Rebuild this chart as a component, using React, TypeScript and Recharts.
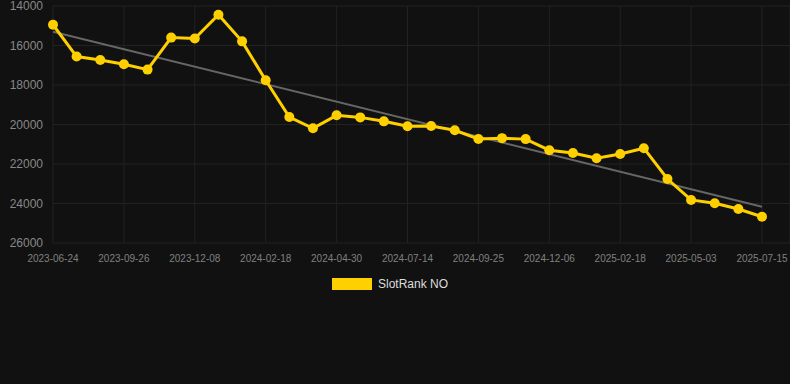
import React from "react";
import { LineChart, Line, XAxis, YAxis, CartesianGrid, Legend } from "recharts";

const dates = [
  "2023-06-24", "2023-07-25", "2023-08-25", "2023-09-26", "2023-10-20", "2023-11-14",
  "2023-12-08", "2024-01-02", "2024-01-26", "2024-02-18", "2024-03-13", "2024-04-06",
  "2024-04-30", "2024-05-25", "2024-06-19", "2024-07-14", "2024-08-07", "2024-09-01",
  "2024-09-25", "2024-10-19", "2024-11-12", "2024-12-06", "2024-12-31", "2025-01-24",
  "2025-02-18", "2025-03-14", "2025-04-08", "2025-05-03", "2025-05-27", "2025-06-20",
  "2025-07-15",
];

const rankValues = [
  14950, 16560, 16730, 16950, 17220, 15600, 15650, 14440, 15790, 17760, 19620,
  20190, 19535, 19640, 19840, 20090, 20080, 20295, 20735, 20690, 20740, 21300,
  21440, 21710, 21490, 21200, 22760, 23820, 23990, 24280, 24670,
];

const trendStart = 15300;
const trendEnd = 24160;

const yTicks = [14000, 16000, 18000, 20000, 22000, 24000, 26000];

const data = dates.map((d, i) => ({
  date: d,
  rank: rankValues[i],
  trend: i === 0 ? trendStart : i === dates.length - 1 ? trendEnd : null,
}));

const LegendContent = () => (
  <div style={{ display: "flex", justifyContent: "center", alignItems: "center", height: 20 }}>
    <div style={{ width: 40, height: 12, background: "#FFD000", marginRight: 6 }} />
    <span style={{ color: "#dddddd", fontSize: 12, fontFamily: "'Liberation Sans', Arial, sans-serif" }}>
      SlotRank NO
    </span>
  </div>
);

export default function App() {
  return (
    <div style={{ position: "absolute", left: 0, top: 0, width: 790, height: 384, background: "#111111" }}>
      <LineChart
        width={790}
        height={384}
        data={data}
        margin={{ top: 6, right: 0, left: 0, bottom: 91 }}
        style={{ fontFamily: "'Liberation Sans', Arial, sans-serif" }}
      >
        <CartesianGrid stroke="#222222" strokeWidth={1} />
        <XAxis
          dataKey="date"
          interval={2}
          tick={{ fill: "#808080", fontSize: 10 }}
          tickLine={false}
          axisLine={false}
          tickMargin={6}
          height={30}
          padding={{ left: 0, right: 28 }}
        />
        <YAxis
          reversed
          domain={[14000, 26000]}
          ticks={yTicks}
          interval={0}
          width={53}
          tick={{ fill: "#888888", fontSize: 12 }}
          tickLine={false}
          axisLine={false}
          tickMargin={4}
        />
        <Legend
          verticalAlign="bottom"
          content={<LegendContent />}
          wrapperStyle={{ position: "absolute", top: 274, left: -5, width: 790, height: 20 }}
        />
        <Line
          dataKey="trend"
          stroke="#666666"
          strokeWidth={2}
          dot={false}
          connectNulls
          isAnimationActive={false}
          legendType="none"
        />
        <Line
          dataKey="rank"
          name="SlotRank NO"
          stroke="#FFD000"
          strokeWidth={3}
          dot={{ r: 5, fill: "#FFD000", stroke: "#FFD000", strokeWidth: 0 }}
          activeDot={false}
          isAnimationActive={false}
        />
      </LineChart>
    </div>
  );
}
